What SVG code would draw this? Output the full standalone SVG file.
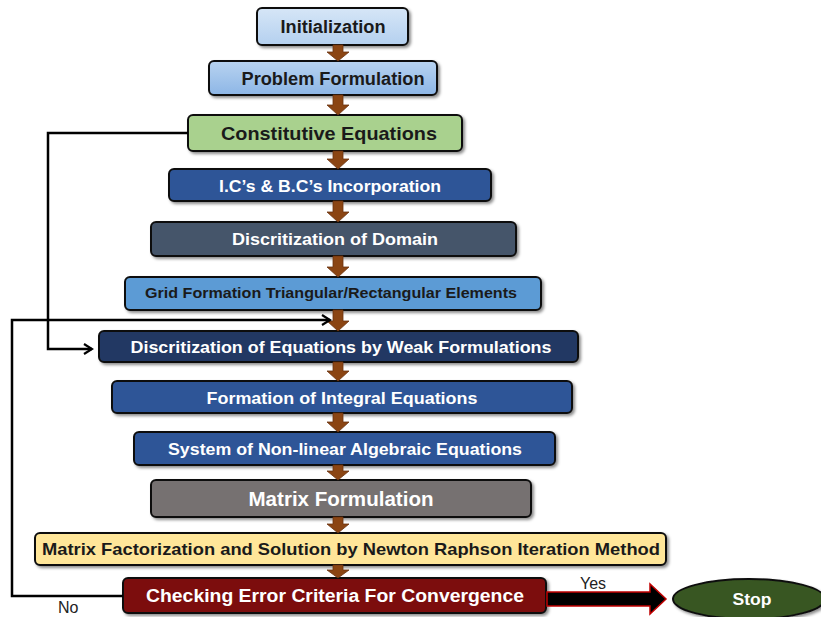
<svg xmlns="http://www.w3.org/2000/svg" width="821" height="617" viewBox="0 0 821 617">
<defs>
<filter id="sh" x="-10%" y="-30%" width="120%" height="160%">
<feDropShadow dx="2" dy="2" stdDeviation="1.5" flood-color="#000" flood-opacity="0.45"/>
</filter>
<marker id="open" markerWidth="12" markerHeight="12" refX="10" refY="6" orient="auto" markerUnits="userSpaceOnUse">
<path d="M2,1 L10,6 L2,11" fill="none" stroke="#000" stroke-width="2.2"/>
</marker>
<linearGradient id="gInit" x1="0" y1="0" x2="0" y2="1"><stop offset="0" stop-color="#d6e6f7"/><stop offset="1" stop-color="#b4d0ef"/></linearGradient>
<linearGradient id="gProb" x1="0" y1="0" x2="0" y2="1"><stop offset="0" stop-color="#b8d3f0"/><stop offset="1" stop-color="#8db6e6"/></linearGradient>
</defs>
<style>
.box{stroke:#111;stroke-width:2;filter:url(#sh)}
.t{font-family:"Liberation Sans",Arial,sans-serif;font-weight:bold;text-anchor:middle}
.dk{fill:#1a1a1a}
.wt{fill:#fff}
.arr{fill:#8b4513;stroke:#6b3410;stroke-width:0.8}
.conn{fill:none;stroke:#000;stroke-width:2.5}
.lbl{font-family:"Liberation Sans",Arial,sans-serif;font-size:16px;fill:#222}
</style>
<g id="n1"><rect class="box" x="257" y="8" width="151" height="37" rx="5" fill="url(#gInit)"/><text class="t dk" x="333" y="33" font-size="18" textLength="105" lengthAdjust="spacingAndGlyphs">Initialization</text></g>
<g id="n2"><rect class="box" x="209" y="61" width="228" height="34" rx="5" fill="url(#gProb)"/><text class="t dk" x="333" y="85" font-size="18" textLength="183" lengthAdjust="spacingAndGlyphs">Problem Formulation</text></g>
<g id="n3"><rect class="box" x="188" y="115" width="274" height="36" rx="5" fill="#a9d18e"/><text class="t dk" x="329" y="140" font-size="19" textLength="216" lengthAdjust="spacingAndGlyphs">Constitutive Equations</text></g>
<g id="n4"><rect class="box" x="169" y="169" width="322" height="32" rx="5" fill="#2f5597"/><text class="t wt" x="330" y="192" font-size="17" textLength="222" lengthAdjust="spacingAndGlyphs">I.C’s &amp; B.C’s Incorporation</text></g>
<g id="n5"><rect class="box" x="151" y="222" width="365" height="34" rx="5" fill="#44546a"/><text class="t wt" x="335" y="245" font-size="17" textLength="206" lengthAdjust="spacingAndGlyphs">Discritization of Domain</text></g>
<g id="n6"><rect class="box" x="125" y="277" width="416" height="33" rx="5" fill="#5b9bd5"/><text class="t dk" x="331" y="298" font-size="15" textLength="372" lengthAdjust="spacingAndGlyphs">Grid Formation Triangular/Rectangular Elements</text></g>
<g id="n7"><rect class="box" x="99" y="331" width="479" height="31" rx="5" fill="#203864"/><text class="t wt" x="341" y="353" font-size="17" textLength="421" lengthAdjust="spacingAndGlyphs">Discritization of Equations by Weak Formulations</text></g>
<g id="n8"><rect class="box" x="112" y="381" width="460" height="32" rx="5" fill="#2f5597"/><text class="t wt" x="342" y="404" font-size="17" textLength="271" lengthAdjust="spacingAndGlyphs">Formation of Integral Equations</text></g>
<g id="n9"><rect class="box" x="134" y="432" width="421" height="33" rx="5" fill="#2f5597"/><text class="t wt" x="345" y="455" font-size="17" textLength="354" lengthAdjust="spacingAndGlyphs">System of Non-linear Algebraic Equations</text></g>
<g id="n10"><rect class="box" x="151" y="480" width="380" height="37" rx="5" fill="#767171"/><text class="t wt" x="341" y="506" font-size="20" textLength="185" lengthAdjust="spacingAndGlyphs">Matrix Formulation</text></g>
<g id="n11"><rect class="box" x="35" y="533" width="631" height="32" rx="5" fill="#ffe699"/><text class="t dk" x="351" y="555" font-size="17" textLength="618" lengthAdjust="spacingAndGlyphs">Matrix Factorization and Solution by Newton Raphson Iteration Method</text></g>
<g id="n12"><rect class="box" x="123" y="578" width="423" height="35" rx="5" fill="#7b0a0a"/><text class="t wt" x="335" y="602" font-size="18" textLength="378" lengthAdjust="spacingAndGlyphs">Checking Error Criteria For Convergence</text></g>
<g id="n13"><ellipse class="box" cx="749" cy="599" rx="76" ry="20" fill="#385723"/><text class="t wt" x="752" y="605" font-size="17" textLength="39" lengthAdjust="spacingAndGlyphs">Stop</text></g>
<g id="connectors">
<path class="arr" d="M333,45 h10 v7 h6 l-11,9 l-11,-9 h6 z"/>
<path class="arr" d="M333,95 h10 v10 h6 l-11,10 l-11,-10 h6 z"/>
<path class="arr" d="M333,151 h10 v8 h6 l-11,10 l-11,-10 h6 z"/>
<path class="arr" d="M333,201 h10 v11 h6 l-11,10 l-11,-10 h6 z"/>
<path class="arr" d="M333,256 h10 v11 h6 l-11,10 l-11,-10 h6 z"/>
<path class="arr" d="M333,310 h10 v11 h6 l-11,10 l-11,-10 h6 z"/>
<path class="arr" d="M333,362 h10 v9 h6 l-11,10 l-11,-10 h6 z"/>
<path class="arr" d="M333,413 h10 v9 h6 l-11,10 l-11,-10 h6 z"/>
<path class="arr" d="M333,465 h10 v6 h6 l-11,9 l-11,-9 h6 z"/>
<path class="arr" d="M333,517 h10 v7 h6 l-11,9 l-11,-9 h6 z"/>
<path class="arr" d="M333,565 h10 v5 h6 l-11,8 l-11,-8 h6 z"/>
<polyline class="conn" points="188,133 48,133 48,349 92,349" marker-end="url(#open)"/>
<polyline class="conn" points="123,596 12,596 12,320 330,320" marker-end="url(#open)"/>
<path d="M547,592 H650 V584 L666,599 L650,614 V606 H547 Z" fill="#000" stroke="#c00000" stroke-width="1.5"/>
</g>
<text class="lbl" x="580" y="589">Yes</text>
<text class="lbl" x="58" y="613">No</text>
</svg>
